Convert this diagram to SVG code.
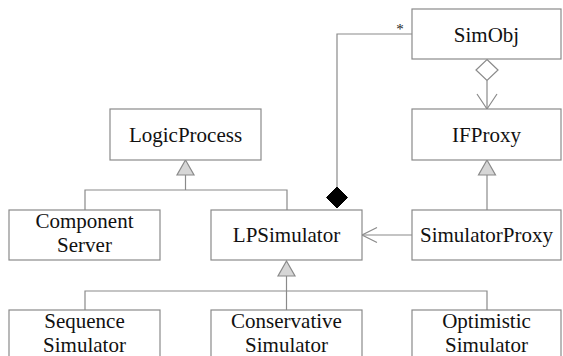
<svg xmlns="http://www.w3.org/2000/svg" width="563" height="356" viewBox="0 0 563 356">
<style>
.box{fill:#fff;stroke:#8a8a8a;stroke-width:1.2}
.t{font-family:'Liberation Serif','DejaVu Serif',serif;font-size:21px;fill:#111;text-anchor:middle}
.ln{fill:none;stroke:#8a8a8a;stroke-width:1.2}
.tri{fill:#d6d6d6;stroke:#8a8a8a;stroke-width:1.2}
</style>
<rect width="563" height="356" fill="#fff"/>
<g id="connectors">
  <polyline class="ln" points="412,34 337,34 337,187"/>
  <polygon points="337,187 347.5,197.5 337,208 326.5,197.5" fill="#000" stroke="#000" stroke-width="1"/>
  <text x="400" y="34" style="font-family:'Liberation Serif','DejaVu Serif',serif;font-size:15px;fill:#222;text-anchor:middle">*</text>
  <polygon points="487,59.5 498,70 487,80.5 476,70" fill="#fff" stroke="#8a8a8a" stroke-width="1.2"/>
  <line class="ln" x1="487" y1="80.5" x2="487" y2="109"/>
  <polyline class="ln" points="477,94 487,109 497,94"/>
  <polyline class="ln" points="85,210 85,190 287,190 287,210"/>
  <line class="ln" x1="185.5" y1="175" x2="185.5" y2="190"/>
  <polygon class="tri" points="185.5,160 194,175 177,175"/>
  <line class="ln" x1="487" y1="175" x2="487" y2="210"/>
  <polygon class="tri" points="487,160 495.5,175 478.5,175"/>
  <line class="ln" x1="412" y1="235" x2="362" y2="235"/>
  <polyline class="ln" points="377,227.5 362,235 377,242.5"/>
  <polyline class="ln" points="85,310 85,291 487,291 487,310"/>
  <line class="ln" x1="286.5" y1="276" x2="286.5" y2="310"/>
  <polygon class="tri" points="286.5,261 295,276 278,276"/>
</g>
<g id="SimObj"><rect class="box" x="412" y="9" width="149" height="50"/><text class="t" x="486.5" y="42">SimObj</text></g>
<g id="IFProxy"><rect class="box" x="412" y="109" width="149" height="51"/><text class="t" x="486.5" y="142">IFProxy</text></g>
<g id="LogicProcess"><rect class="box" x="110" y="109" width="151" height="51"/><text class="t" x="185.5" y="142">LogicProcess</text></g>
<g id="ComponentServer"><rect class="box" x="9" y="210" width="151" height="50"/><text class="t" x="84.5" y="228">Component</text><text class="t" x="84.5" y="252">Server</text></g>
<g id="LPSimulator"><rect class="box" x="211" y="210" width="151" height="50"/><text class="t" x="286.5" y="242">LPSimulator</text></g>
<g id="SimulatorProxy"><rect class="box" x="412" y="210" width="149" height="50"/><text class="t" x="486.5" y="242">SimulatorProxy</text></g>
<g id="SequenceSimulator"><rect class="box" x="9" y="310" width="151" height="60"/><text class="t" x="84.5" y="328">Sequence</text><text class="t" x="84.5" y="352">Simulator</text></g>
<g id="ConservativeSimulator"><rect class="box" x="211" y="310" width="151" height="60"/><text class="t" x="286.5" y="328">Conservative</text><text class="t" x="286.5" y="352">Simulator</text></g>
<g id="OptimisticSimulator"><rect class="box" x="412" y="310" width="149" height="60"/><text class="t" x="486.5" y="328">Optimistic</text><text class="t" x="486.5" y="352">Simulator</text></g>
</svg>
